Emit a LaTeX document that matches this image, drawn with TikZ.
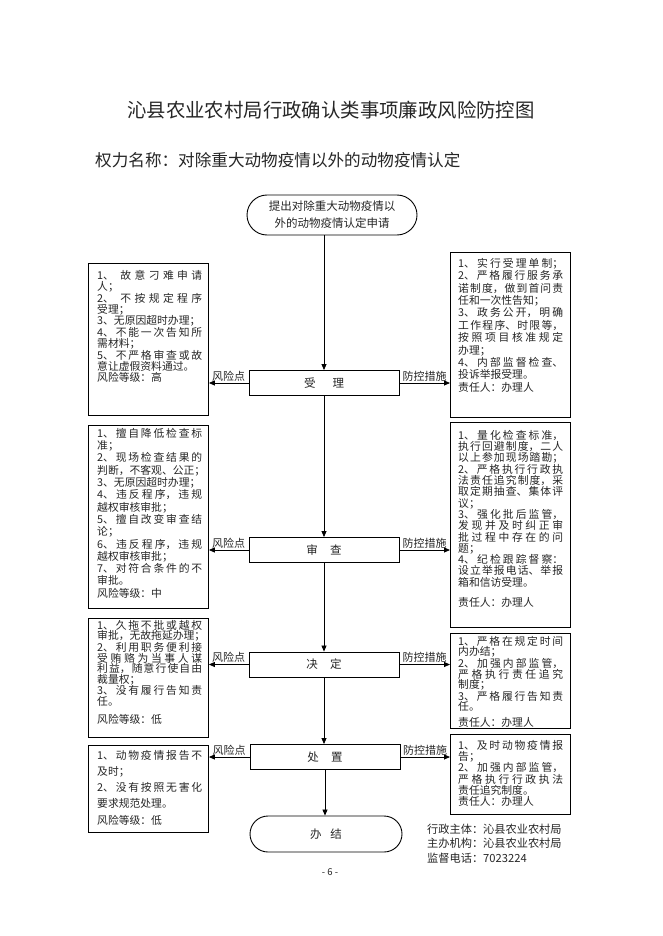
\documentclass[tikz,border=0pt]{standalone}
\usepackage{fontspec}
\setmainfont{Noto Sans CJK SC}
\XeTeXlinebreaklocale "zh"
\XeTeXlinebreakskip=0pt plus 1pt
\hbadness=10000
\hfuzz=30pt
\vbadness=10000
\usetikzlibrary{arrows.meta}
\newcommand{\bxf}[1]{\fontsize{10.8}{#1}\selectfont\tolerance=10000\parindent=0pt\relax}
\begin{document}
\begin{tikzpicture}[x=1pt,y=-1pt,
  every node/.style={text=black!85},
  bx/.style={draw=black, line width=0.9pt, anchor=north west, inner sep=0pt, minimum width=120pt},
  txt/.style={anchor=north west, inner sep=0pt, text width=105pt, align=justify},
  fl/.style={draw=black, line width=0.9pt, minimum width=150pt, minimum height=25pt, inner sep=0pt, font=\fontsize{11.5}{12}\selectfont},
  term/.style={draw=black, line width=0.9pt, inner sep=0pt, align=center},
  arr/.style={draw=black, line width=0.8pt, -{Triangle[length=6pt,width=5pt]}},
  lbl/.style={font=\fontsize{11}{12}\selectfont, inner sep=1.5pt},
]
\fill[white] (0,0) rectangle (662,936);
\useasboundingbox (0,0) rectangle (662,936);

% titles
\node[font=\fontsize{19.4}{22}\selectfont] (title) at (331,110) {沁县农业农村局行政确认类事项廉政风险防控图};
\node[anchor=west, font=\fontsize{16.6}{18}\selectfont, inner sep=0pt] (sub) at (95,160) {权力名称：对除重大动物疫情以外的动物疫情认定};

% start terminal
\node[term, minimum width=170pt, minimum height=40pt, rounded corners=20pt, font=\fontsize{11.5}{17}\selectfont] (start) at (332,215) {提出对除重大动物疫情以\\外的动物疫情认定申请};

% flow boxes
\node[fl] (shouli) at (324,383) {受\hspace{17pt}理};
\node[fl] (shencha) at (324,550) {审\hspace{12.5pt}查};
\node[fl] (juding) at (324,664.5) {决\hspace{12.5pt}定};
\node[fl] (chuzhi) at (325,757) {处\hspace{12.5pt}置};

% end terminal
\node[term, minimum width=152pt, minimum height=36pt, rounded corners=18pt, font=\fontsize{11.5}{12}\selectfont] (banjie) at (326,834) {办\hspace{9pt}结};

% side boxes
\node[bx, minimum height=152pt] (L1) at (88,263) {};
\node[bx, minimum height=165pt] (R1) at (450,252) {};
\node[bx, minimum height=183pt] (L2) at (88,425) {};
\node[bx, minimum height=205pt] (R2) at (450,422) {};
\node[bx, minimum height=119pt] (L3) at (88,618) {};
\node[bx, minimum height=95pt] (R3) at (450,633) {};
\node[bx, minimum height=87pt] (L4) at (88,745) {};
\node[bx, minimum height=80pt] (R4) at (450,734) {};

% side texts
\node[txt, font=\bxf{11.4}] (L1t) at (97,270) {1、\ 故意刁难申请\linebreak 人；\par 2、\ 不按规定程序\linebreak 受理；\par 3、无原因超时办理；\par 4、不能一次告知所\linebreak 需材料；\par 5、不严格审查或故\linebreak 意让虚假资料通过。\par 风险等级：高};

\node[txt, font=\bxf{12.4}] (R1t) at (458,258) {1、实行受理单制；\linebreak 2、严格履行服务承\linebreak 诺制度，做到首问责\linebreak 任和一次性告知；\par 3、政务公开，明确\linebreak 工作程序、时限等，\linebreak 按照项目核准规定\linebreak 办理；\par 4、内部监督检查、\linebreak 投诉举报受理。\par 责任人：办理人};

\node[txt, font=\bxf{12.3}] (L2t) at (97,428) {1、擅自降低检查标\linebreak 准；\par 2、现场检查结果的\linebreak \mbox{判断，不客观、公正；}\par 3、无原因超时办理；\par 4、违反程序，违规\linebreak 越权审核审批；\par 5、擅自改变审查结\linebreak 论；\par 6、违反程序，违规\linebreak 越权审核审批；\par 7、对符合条件的不\linebreak 审批。\par 风险等级：中};

\node[txt, font=\bxf{11.3}] (R2t) at (458,430) {1、量化检查标准，\linebreak 执行回避制度，二人\linebreak 以上参加现场踏勘；\linebreak 2、严格执行行政执\linebreak 法责任追究制度，采\linebreak 取定期抽查、集体评\linebreak 议；\par 3、强化批后监管，\linebreak 发现并及时纠正审\linebreak 批过程中存在的问\linebreak 题；\par 4、纪检跟踪督察：\linebreak 设立举报电话、举报\linebreak 箱和信访受理。\par\vspace{8.7pt}责任人：办理人};

\node[txt, font=\bxf{10.5}] (L3t) at (97,620) {1、久拖不批或越权\linebreak \mbox{审批，无故拖延办理；}\par 2、利用职务便利接\linebreak 受贿赂为当事人谋\linebreak 利益，随意行使自由\linebreak 裁量权；\par 3、没有履行告知责\linebreak 任。\par\vspace{7.8pt}风险等级：低};

\node[txt, font=\bxf{10.4}] (R3t) at (458,636) {1、严格在规定时间\linebreak 内办结；\par 2、加强内部监管，\linebreak 严格执行责任追究\linebreak 制度；\par 3、严格履行告知责\linebreak 任。\par\vspace{5.3pt}责任人：办理人};

\node[txt, font=\bxf{16.2}] (L4t) at (97,750) {1、动物疫情报告不\linebreak 及时；\par 2、没有按照无害化\linebreak 要求规范处理。\par 风险等级：低};

\node[txt, font=\bxf{11.3}] (R4t) at (458,740) {1、及时动物疫情报\linebreak 告；\par 2、加强内部监管，\linebreak 严格执行行政执法\linebreak 责任追究制度。\par 责任人：办理人};

% main flow arrows
\draw[arr] (start.south -| shouli.north) -- (shouli.north);
\draw[arr] (shouli.south) -- (shencha.north);
\draw[arr] (shencha.south) -- (juding.north);
\draw[arr] (juding.south) -- (chuzhi.north -| juding.south);
\draw[arr] (chuzhi.south) -- (chuzhi.south |- banjie.north);

% side arrows
\draw[arr] (shouli.west) -- (shouli.west -| L1.east) node[midway, above, lbl] (fx1) {风险点};
\draw[arr] (shouli.east) -- (shouli.east -| R1.west) node[midway, above, lbl] (fk1) {防控措施};
\draw[arr] (shencha.west) -- (shencha.west -| L2.east) node[midway, above, lbl] (fx2) {风险点};
\draw[arr] (shencha.east) -- (shencha.east -| R2.west) node[midway, above, lbl] (fk2) {防控措施};
\draw[arr] (juding.west) -- (juding.west -| L3.east) node[midway, above, lbl] (fx3) {风险点};
\draw[arr] (juding.east) -- (juding.east -| R3.west) node[midway, above, lbl] (fk3) {防控措施};
\draw[arr] (chuzhi.west) -- (chuzhi.west -| L4.east) node[midway, above, lbl] (fx4) {风险点};
\draw[arr] (chuzhi.east) -- (chuzhi.east -| R4.west) node[midway, above, lbl] (fk4) {防控措施};

% footer
\node[anchor=west, inner sep=0pt, font=\fontsize{11.2}{12}\selectfont] (zt) at (427,829) {行政主体：沁县农业农村局};
\node[anchor=west, inner sep=0pt, font=\fontsize{11.2}{12}\selectfont] (zb) at (427,843.5) {主办机构：沁县农业农村局};
\node[anchor=west, inner sep=0pt, font=\fontsize{11.2}{12}\selectfont] (jd) at (427,858) {监督电话：7023224};
\node[inner sep=0pt, font=\fontsize{9.5}{10}\selectfont] (pg) at (330,872) {- 6 -};
\end{tikzpicture}
\end{document}
